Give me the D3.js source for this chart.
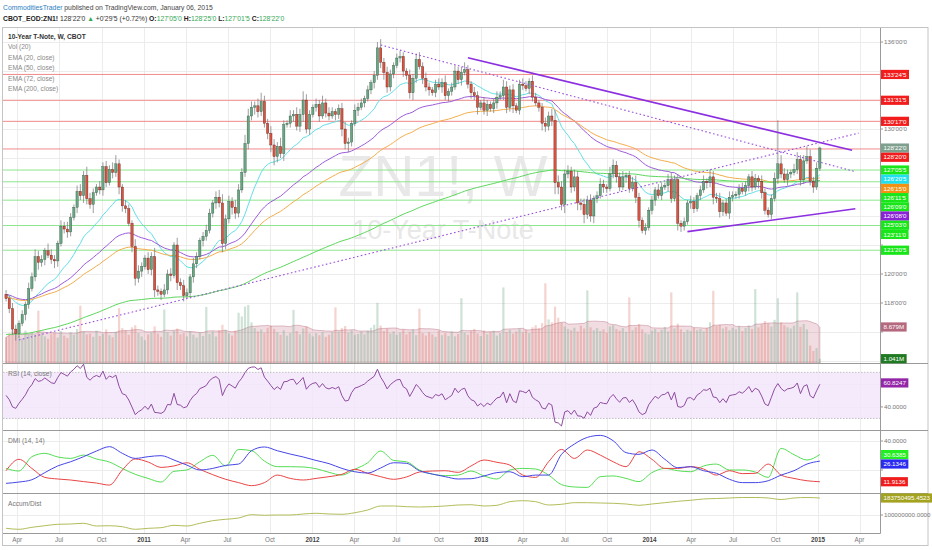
<!DOCTYPE html>
<html>
<head>
<meta charset="utf-8">
<script src="https://d3js.org/d3.v7.min.js"></script>
<style>
  body { margin: 0; background: #fff; }
  svg text { font-family: "Liberation Sans", Arial, sans-serif; }
</style>
</head>
<body>
<script>
// ZN1! weekly, first bar week of 2010-03-08, last bar week of 2015-01-05
const firstOpen = 118.6
const closes = [
  118.3, 117.6, 116.2, 115.9, 116.6, 117.2, 117.9, 119.0, 119.8, 121.2,
  120.8, 121.0, 121.6, 121.3, 121.0, 120.9, 122.1, 123.3, 123.1, 122.9,
  123.9, 124.6, 125.7, 125.4, 126.8, 125.2, 124.8, 125.6, 126.0, 125.8,
  127.4, 126.3, 127.2, 127.0, 127.6, 126.0, 124.7, 124.5, 123.5, 121.9,
  119.7, 120.2, 120.5, 121.1, 120.3, 121.2, 118.9, 118.8, 118.6, 118.9,
  120.0, 119.9, 122.0, 119.4, 119.2, 118.5, 118.7, 119.8, 120.7, 121.2,
  122.3, 122.6, 123.0, 124.2, 124.9, 125.3, 124.9, 122.1, 123.8, 125.0,
  124.6, 124.2, 125.8, 127.0, 129.0, 130.9, 131.5, 131.6, 131.2, 131.9,
  130.4, 129.7, 128.9, 128.1, 128.8, 128.3, 130.3, 130.4, 130.9, 131.0,
  130.2, 131.0, 132.0, 130.0, 131.0, 131.5, 131.7, 130.9, 131.8, 131.1,
  130.9, 131.2, 131.0, 131.4, 130.0, 129.0, 129.1, 130.4, 131.3, 131.5,
  131.8, 132.1, 132.7, 133.2, 133.7, 135.6, 134.6, 133.9, 132.9, 133.8,
  134.4, 134.9, 135.0, 134.0, 133.7, 132.5, 133.5, 134.8, 134.3, 133.5,
  132.9, 132.7, 132.5, 133.1, 132.9, 133.2, 132.3, 132.6, 132.9, 134.0,
  133.4, 133.9, 134.1, 133.1, 132.5, 132.3, 131.5, 131.8, 131.3, 131.7,
  131.4, 131.8, 132.2, 132.3, 132.9, 131.5, 132.7, 131.6, 131.3, 133.1,
  133.0, 132.8, 133.3, 132.2, 131.8, 131.5, 130.4, 130.2, 130.9, 130.6,
  126.3, 126.0, 124.8, 126.9, 127.1, 126.0, 126.7, 124.9, 124.8, 124.1,
  125.1, 124.0, 125.2, 125.4, 126.2, 126.0, 125.9, 126.9, 127.5, 126.7,
  126.0, 126.7, 126.8, 125.9, 126.3, 125.3, 123.7, 123.0, 123.2, 124.4,
  125.1, 125.8, 125.4, 126.0, 126.1, 126.5, 125.2, 126.5, 123.5, 123.3,
  123.6, 124.9, 125.0, 124.5, 125.4, 125.8, 126.4, 126.3, 126.7, 125.3,
  125.2, 124.3, 124.9, 124.2, 125.3, 125.4, 125.5, 125.9, 125.7, 126.1,
  126.7, 126.0, 126.6, 126.4, 125.6, 124.4, 124.1, 125.2, 126.6, 127.6,
  126.9, 126.5, 126.9, 127.0, 127.2, 127.9, 126.5, 127.8, 128.1, 126.4,
  126.0, 127.3, 128.69
]
// wick length above / below the body, tenths of a point
const upWick = [
  3,2,4,3,2,3,2,4,3,5, 4,3,2,5,4,3,2,4,3,5, 3,2,4,5,3,6,4,3,2,4, 3,4,3,5,6,3,2,4,3,2,
  5,4,3,2,4,3,6,3,2,4, 3,4,2,5,3,4,3,2,4,3, 2,3,4,3,2,4,5,6,3,4, 3,5,4,3,6,5,4,3,5,6,
  4,3,5,4,3,6,3,2,4,3, 5,4,6,4,3,2,4,3,5,3, 4,3,2,3,4,5,3,2,4,3, 3,2,3,2,3,4,6,3,4,3,
  2,3,4,3,2,4,3,4,5,3, 4,3,2,3,4,3,5,2,3,4, 3,4,5,3,2,4,3,2,4,3, 2,3,4,3,5,4,3,4,2,3,
  4,3,2,4,3,2,3,4,3,5, 7,5,4,3,4,3,5,4,3,4, 3,4,2,3,4,3,2,5,4,3, 3,4,2,3,4,5,3,2,3,2,
  3,2,4,3,2,4,5,3,4,2, 3,2,4,3,2,3,4,2,5,4, 3,4,2,3,4,3,2,3,4,3, 2,4,3,2,4,3,2,3,4,30,
  6,4,3,2,4,5,3,4,7,5, 3,4,1
]
const loWick = [
  2,3,4,5,3,2,4,3,2,3, 5,3,4,2,3,5,4,2,3,4, 3,2,4,3,5,4,3,6,2,3, 4,3,2,4,3,5,4,3,2,4,
  5,3,4,2,3,4,5,3,4,2, 3,4,2,5,3,4,2,3,4,3, 2,4,3,2,3,4,3,6,4,3, 5,4,3,2,3,4,3,5,4,3,
  3,4,5,6,4,3,5,2,3,4, 3,4,5,3,4,2,3,4,2,3, 3,2,4,3,5,4,6,3,2,4, 2,3,2,3,4,3,4,5,4,3,
  3,2,3,4,3,4,5,3,2,4, 3,4,2,3,2,4,3,4,3,2, 3,4,2,3,4,3,5,2,3,4, 2,3,4,2,3,4,3,5,2,3,
  3,2,4,3,2,3,5,4,3,4, 8,5,4,6,3,4,3,5,4,6, 3,4,5,3,2,4,3,2,3,4, 3,2,4,3,2,4,5,2,3,2,
  3,4,2,3,2,4,3,2,5,4, 3,2,4,3,2,3,2,4,3,5, 3,4,3,2,4,3,2,3,2,3, 4,3,2,5,4,3,2,3,2,4,
  3,2,4,3,2,3,4,3,2,3, 4,2,2
]
// weekly volume, millions
const volume = [
  6.2, 7.1, 8.0, 7.4, 6.5, 5.9, 7.8, 6.9, 7.5, 6.8,
  12.6, 7.2, 6.4, 5.8, 6.9, 7.3, 6.1, 7.7, 6.6, 6.0,
  7.4, 6.8, 8.2, 13.8, 7.6, 6.9, 7.1, 6.3, 7.8, 6.5,
  7.0, 8.1, 6.7, 6.2, 7.5, 13.2, 8.4, 7.9, 6.8, 8.6,
  9.1, 7.2, 6.4, 5.5, 6.9, 7.3, 8.8, 7.1, 6.3, 12.9,
  7.4, 6.6, 7.8, 8.3, 6.9, 7.2, 6.4, 7.7, 6.8, 6.1,
  7.3, 6.5, 13.5, 7.0, 7.6, 6.4, 7.9, 9.2, 8.0, 7.1,
  6.6, 7.8, 12.1, 11.2, 13.6, 14.0, 9.8, 8.4, 7.6, 8.1,
  7.3, 8.5, 9.0, 8.2, 7.4, 6.8, 7.9, 6.6, 7.2, 12.8,
  7.7, 6.9, 8.3, 8.8, 7.1, 6.4, 7.2, 6.7, 7.5, 6.3,
  6.8, 7.4, 13.4, 7.6, 8.4, 8.9, 7.3, 7.9, 6.8, 7.0,
  7.6, 6.9, 7.8, 8.5, 9.2, 14.5, 9.0, 7.7, 8.3, 7.1,
  7.6, 6.8, 7.3, 8.0, 6.9, 7.5, 8.1, 6.7, 13.1, 7.2,
  6.6, 7.4, 6.9, 6.3, 7.8, 6.7, 7.2, 6.5, 7.6, 6.4,
  7.0, 15.6, 7.3, 6.8, 7.7, 8.2, 7.1, 6.5, 7.9, 6.9,
  7.4, 7.8, 6.6, 7.2, 18.2, 7.5, 8.0, 7.1, 7.6, 8.3,
  7.4, 8.0, 7.2, 8.6, 9.1, 8.4, 9.6, 19.2, 10.5, 9.8,
  13.6, 10.9, 9.7, 8.8, 8.2, 7.9, 8.5, 7.6, 9.0, 8.3,
  17.5, 8.6, 7.9, 8.4, 7.7, 8.1, 7.3, 8.8, 9.1, 8.2,
  7.8, 8.4, 7.5, 15.8, 7.9, 8.6, 9.4, 8.1, 7.2, 6.9,
  7.8, 8.2, 7.4, 8.0, 8.7, 7.6, 17.0, 8.3, 9.5, 8.1,
  7.4, 8.0, 7.7, 8.5, 7.9, 8.2, 7.6, 8.4, 9.8, 17.4,
  8.9, 9.2, 8.3, 8.7, 7.9, 8.5, 8.1, 8.8, 7.7, 8.4,
  9.0, 8.2, 17.8, 8.6, 9.3, 10.1, 9.5, 8.8, 10.4, 15.6,
  9.8, 9.1, 8.6, 8.3, 9.0, 17.0, 8.7, 9.4, 8.1, 4.2,
  2.9, 3.6, 1.041
]
// indicator values read every 4th week (week 0, 4, 8 ... 252)
const accumDist = [
  34.4, 29.5, 39.4, 47.2, 54.2, 55.6, 59.1, 45.8, 47.2, 42.3,
  29.5, 34.4, 37.4, 49.2, 45.8, 59.1, 71.9, 78.8, 85.2, 101.5,
  98.5, 100, 100, 104.9, 108.4, 104.9, 103.5, 111.3, 124.7, 144.4,
  144.4, 140.9, 139.4, 140.9, 144.4, 149.3, 150.8, 144.4, 147.8, 165.6,
  170.5, 165.6, 149.3, 152.8, 160.6, 160.6, 159.2, 157.7, 154.2, 147.8,
  154.2, 160.6, 167.5, 172.5, 178.9, 181.3, 183.8, 186.3, 186.3, 183.8,
  176.4, 183.8, 186.3, 183.75
]
const diPlus = [
  21.1, 19.3, 29.2, 31.5, 29.0, 28.0, 30.3, 27.6, 25.5, 21.1, 17.0, 14.2, 11.7, 19.1, 20.0, 25.7,
  30.1, 22.8, 34.2, 33.3, 26.2, 22.3, 22.3, 22.1, 20.9, 18.4, 16.5, 20.5, 25.0, 33.1, 26.6, 25.7,
  20.0, 17.2, 16.1, 16.5, 19.3, 15.9, 13.8, 20.0, 21.1, 20.7, 16.5, 9.9, 8.3, 8.0, 15.4, 15.9,
  14.2, 12.0, 18.2, 21.1, 19.5, 18.8, 22.8, 24.1, 20.0, 20.0, 18.6, 14.9, 34.9, 30.6, 26.9, 30.64
]
const diMinus = [
  19.5, 27.4, 21.1, 14.9, 13.8, 13.1, 12.0, 11.0, 9.6, 20.0, 27.6, 25.5, 21.8, 22.8, 25.0, 20.5,
  16.8, 13.6, 11.3, 9.2, 11.3, 16.5, 14.2, 13.1, 14.2, 15.4, 17.0, 20.5, 17.7, 15.4, 13.6, 15.2,
  18.6, 19.3, 19.5, 18.4, 22.8, 26.9, 25.3, 23.4, 16.5, 14.9, 25.7, 34.2, 28.0, 33.8, 30.3, 25.7,
  22.3, 32.6, 27.4, 21.1, 21.1, 22.3, 20.7, 16.5, 19.5, 17.5, 17.7, 24.1, 16.5, 14.2, 12.6, 11.91
]
const adx = [
  10.8, 11.7, 13.3, 18.2, 22.8, 25.7, 29.2, 33.1, 36.1, 31.5, 28.0, 29.2, 29.9, 26.9, 23.4, 20.0,
  21.1, 23.2, 24.1, 33.3, 35.9, 33.3, 31.0, 29.0, 26.6, 24.4, 21.1, 18.8, 17.9, 21.4, 25.0, 24.6,
  19.5, 17.2, 15.4, 13.8, 14.0, 15.9, 18.2, 18.8, 15.4, 16.5, 16.5, 30.8, 37.9, 42.5, 43.9, 40.2,
  32.0, 30.8, 33.8, 27.4, 21.6, 22.3, 19.5, 17.7, 13.6, 11.3, 11.3, 12.6, 16.5, 19.5, 24.1, 26.13
]
const emaLengths = [20, 50, 72, 200]
const emaStart = [118.6, 118.6, 118.4, 115.8]
const emaColors = ['#62dfe6', '#9d5bd9', '#f3ad4c', '#5dd65d']
const emaLast = [126.640625, 126.25, 126.46875, 126.28125]
const emaTagColors = ['#1fe0ee', '#8a22d6', '#f39212', '#19e619']
// horizontal levels drawn on the chart (32nds)
const redLevels = [133.765625, 131.984375, 130.53125, 128.625]
const greenLevels = [127.171875, 126.359375, 125.09375, 123.34375, 121.640625]
const lastPrice = 128.6875
const rsiLast = 60.8247, dmiLast = ['30.6385', '26.1346', '11.9136']
const volMaLast = '8.679M', volLast = '1.041M', adLast = '183750495.4523'
const priceTicks = d3.range(114, 137, 2)
const legend = ['Vol (20)', 'EMA (20, close)', 'EMA (50, close)', 'EMA (72, close)', 'EMA (200, close)']
// drawn trend lines [date, price]
const trendLines = [
  {a: ['2010-04-05', 115.45], b: ['2015-03-30', 129.72], dash: true},
  {a: ['2012-05-28', 135.80], b: ['2015-03-23', 127.06], dash: true},
  {a: ['2012-12-03', 134.92], b: ['2015-03-16', 128.53], dash: false},
  {a: ['2014-03-24', 122.92], b: ['2015-03-23', 124.50], dash: false}
]

const W = 932, H = 550
const L = 3, R = 880.5, RR = 928
const svg = d3.select('body').append('svg').attr('width', W).attr('height', H)

const parse = d3.timeParse('%Y-%m-%d')
const first = new Date(2010, 2, 8)
const bars = closes.map((c, i) => {
  const o = i ? closes[i - 1] : firstOpen
  return {
    date: d3.timeWeek.offset(first, i), open: o, close: c,
    high: Math.max(o, c) + upWick[i] / 10, low: Math.min(o, c) - loWick[i] / 10,
    vol: volume[i]
  }
})

const x = d3.scaleTime().domain([new Date(2011, 0, 1), new Date(2015, 0, 1)]).range([144, 818])
const yMain = d3.scaleLinear().domain([113.86, 136.97]).range([363, 28])
const yVol = d3.scaleLinear().domain([0, 80.7]).range([363, 28])
const yRsi = d3.scaleLinear().domain([20, 78.1]).range([430, 363])
const yDmi = d3.scaleLinear().domain([4.14, 47.6]).range([493, 430])
const yAd = d3.scaleLinear().domain([11.3, 208.4]).range([533, 493])

const fmt32 = p => {
  const w = Math.floor(p + 1e-9), f = (p - w) * 32, a = Math.floor(f + 1e-9)
  return w + "'" + String(a).padStart(2, '0') + "'" + Math.round((f - a) * 10)
}

const defs = svg.append('defs')
const clip = (id, y0, y1) => defs.append('clipPath').attr('id', id)
  .append('rect').attr('x', L).attr('y', y0).attr('width', R - L).attr('height', y1 - y0)
clip('cMain', 28, 363); clip('cRsi', 363, 430); clip('cDmi', 430, 493); clip('cAd', 493, 533)

// header
const h1 = svg.append('text').attr('x', 3).attr('y', 10).attr('font-size', 6.8).attr('fill', '#444')
h1.append('tspan').attr('fill', '#2b7ec1').text('CommoditiesTrader')
h1.append('tspan').text(' published on TradingView.com, January 06, 2015')
const h2 = svg.append('text').attr('x', 3).attr('y', 21).attr('font-size', 6.8).attr('fill', '#333')
const quote = [['CBOT_EOD:ZN1!', '#222', 1], [" 128'22'0 ", '#333'], ['\u25B2', '#34a853'],
  [" +0'29'5 (+0.72%) ", '#333'], ['O:', '#222', 1], ["127'05'0", '#34a853'], [' H:', '#222', 1],
  ["128'25'0", '#34a853'], [' L:', '#222', 1], ["127'01'5", '#34a853'], [' C:', '#222', 1], ["128'22'0", '#34a853']]
quote.forEach(q => h2.append('tspan').attr('fill', q[1]).attr('font-weight', q[2] ? 'bold' : null).text(q[0]))

// grid
const ticks = d3.timeMonth.range(new Date(2010, 3, 1), new Date(2015, 4, 2), 3)
const grid = svg.append('g').attr('stroke', '#ececec').attr('stroke-width', 1)
grid.selectAll('line.v').data(ticks).join('line')
  .attr('x1', d => Math.round(x(d)) + 0.5).attr('x2', d => Math.round(x(d)) + 0.5).attr('y1', 28).attr('y2', 533)
const hGrid = [...priceTicks.map(v => yMain(v)), yRsi(40), yRsi(60), yDmi(40), yDmi(20), yAd(100)]
grid.selectAll('line.h').data(hGrid).join('line')
  .attr('x1', L).attr('x2', R).attr('y1', d => Math.round(d) + 0.5).attr('y2', d => Math.round(d) + 0.5)

// main pane
const main = svg.append('g').attr('clip-path', 'url(#cMain)')
main.append('text').attr('x', 443).attr('y', 196).attr('text-anchor', 'middle')
  .attr('font-size', 57).attr('fill', '#e8e8e8').text('ZN1!, W')
main.append('text').attr('x', 443).attr('y', 239).attr('text-anchor', 'middle')
  .attr('font-size', 27).attr('fill', '#e8e8e8').text('10-Year T-Note')

// volume + MA(20)
const volMa = volume.map((v, i) => d3.mean(volume.slice(Math.max(0, i - 19), i + 1)))
main.append('path').datum(bars)
  .attr('fill', 'rgba(185,95,120,0.22)').attr('stroke', 'rgba(175,85,110,0.45)').attr('stroke-width', 0.8)
  .attr('d', d3.area().x(d => x(d.date)).y0(363).y1((d, i) => yVol(volMa[i])))
main.selectAll('rect.vol').data(bars).join('rect')
  .attr('x', d => x(d.date) - 1.1).attr('width', 2.2)
  .attr('y', d => yVol(d.vol)).attr('height', d => 363 - yVol(d.vol))
  .attr('fill', d => d.close >= d.open ? 'rgba(107,165,131,0.32)' : 'rgba(215,84,66,0.26)')

// horizontal levels
main.selectAll('line.red').data(redLevels).join('line')
  .attr('x1', L).attr('x2', R).attr('y1', d => yMain(d)).attr('y2', d => yMain(d))
  .attr('stroke', '#f08a8a').attr('stroke-width', 1)
main.selectAll('line.green').data(greenLevels).join('line')
  .attr('x1', L).attr('x2', R).attr('y1', d => yMain(d)).attr('y2', d => yMain(d))
  .attr('stroke', '#8ee68e').attr('stroke-width', 1)

// EMAs
emaLengths.forEach((n, k) => {
  const a = 2 / (n + 1)
  let e = emaStart[k]
  const vals = closes.map(c => (e = e + a * (c - e)))
  main.append('path').datum(bars).attr('fill', 'none').attr('stroke', emaColors[k]).attr('stroke-width', 1)
    .attr('d', d3.line().x(d => x(d.date)).y((d, i) => yMain(vals[i])))
})

// candles
main.selectAll('line.wick').data(bars).join('line')
  .attr('x1', d => x(d.date)).attr('x2', d => x(d.date))
  .attr('y1', d => yMain(d.high)).attr('y2', d => yMain(d.low))
  .attr('stroke', '#737375').attr('stroke-width', 0.7)
main.selectAll('rect.body').data(bars).join('rect')
  .attr('x', d => x(d.date) - 1.15).attr('width', 2.3)
  .attr('y', d => yMain(Math.max(d.open, d.close)))
  .attr('height', d => Math.max(0.8, Math.abs(yMain(d.open) - yMain(d.close))))
  .attr('fill', d => d.close >= d.open ? '#6ba583' : '#d75442')
  .attr('stroke', d => d.close >= d.open ? '#225437' : '#5b1a13').attr('stroke-width', 0.35)

// trend lines
main.selectAll('line.trend').data(trendLines).join('line')
  .attr('x1', d => x(parse(d.a[0]))).attr('y1', d => yMain(d.a[1]))
  .attr('x2', d => x(parse(d.b[0]))).attr('y2', d => yMain(d.b[1]))
  .attr('stroke', d => d.dash ? '#9b4fdc' : '#8c2fe0')
  .attr('stroke-width', d => d.dash ? 1.1 : 1.6)
  .attr('stroke-dasharray', d => d.dash ? '1.6,2.4' : null)

// legend
svg.append('text').attr('x', 8).attr('y', 38.5).attr('font-size', 6.6).attr('font-weight', 'bold')
  .attr('fill', '#333').text('10-Year T-Note, W, CBOT')
svg.selectAll('text.leg').data(legend).join('text')
  .attr('x', 8).attr('y', (d, i) => 49 + i * 10.5).attr('font-size', 6.6).attr('fill', '#888').text(d => d)

// RSI pane (computed from closes)
const rsi = [50]
let s = 0
for (let i = 1; i <= 14; i++) s += Math.abs(closes[i] - closes[i - 1])
let ag = s / 28, al = s / 28
for (let i = 1; i < closes.length; i++) {
  const ch = closes[i] - closes[i - 1]
  ag = (ag * 13 + Math.max(ch, 0)) / 14
  al = (al * 13 + Math.max(-ch, 0)) / 14
  rsi.push(100 - 100 / (1 + ag / al))
}
const rsiG = svg.append('g').attr('clip-path', 'url(#cRsi)')
rsiG.append('rect').attr('x', L).attr('width', R - L).attr('y', yRsi(70)).attr('height', yRsi(30) - yRsi(70))
  .attr('fill', '#f3e6fb').attr('fill-opacity', 0.85)
rsiG.selectAll('line.band').data([70, 30]).join('line')
  .attr('x1', L).attr('x2', R).attr('y1', d => yRsi(d)).attr('y2', d => yRsi(d))
  .attr('stroke', '#aaa').attr('stroke-width', 0.7).attr('stroke-dasharray', '1.5,1.5')
rsiG.append('path').datum(bars).attr('fill', 'none').attr('stroke', '#8d4c9e').attr('stroke-width', 1)
  .attr('d', d3.line().x(d => x(d.date)).y((d, i) => yRsi(rsi[i])))
svg.append('text').attr('x', 8).attr('y', 376).attr('font-size', 6.6).attr('fill', '#777').text('RSI (14, close)')

// DMI pane
const dmiG = svg.append('g').attr('clip-path', 'url(#cDmi)')
const sampleX = (d, i) => x(bars[i * 4].date)
;[[diPlus, '#55dd55'], [diMinus, '#e84545'], [adx, '#4646e6']].forEach(([arr, col]) => {
  dmiG.append('path').datum(arr).attr('fill', 'none').attr('stroke', col).attr('stroke-width', 1)
    .attr('d', d3.line().curve(d3.curveMonotoneX).x(sampleX).y(d => yDmi(d)))
})
svg.append('text').attr('x', 8).attr('y', 443).attr('font-size', 6.6).attr('fill', '#777').text('DMI (14, 14)')

// Accum/Dist pane
const adG = svg.append('g').attr('clip-path', 'url(#cAd)')
adG.append('path').datum(accumDist).attr('fill', 'none').attr('stroke', '#b3bd5a').attr('stroke-width', 1)
  .attr('d', d3.line().curve(d3.curveMonotoneX).x(sampleX).y(d => yAd(d)))
svg.append('text').attr('x', 8).attr('y', 506).attr('font-size', 6.6).attr('fill', '#777').text('Accum/Dist')

// frames and separators
const frame = svg.append('g').attr('stroke', '#9a9a9a').attr('fill', 'none')
frame.append('rect').attr('x', 2.5).attr('y', 27.5).attr('width', RR - 2.5).attr('height', 545.5 - 27.5)
  .attr('stroke', '#c4c4c4')
;[363.5, 430.5, 493.5].forEach(y => frame.append('line').attr('x1', L).attr('x2', RR).attr('y1', y).attr('y2', y))
frame.append('line').attr('x1', L).attr('x2', R).attr('y1', 533.5).attr('y2', 533.5)
frame.append('line').attr('x1', R).attr('x2', R).attr('y1', 28).attr('y2', 533.5)

// x axis labels
svg.selectAll('text.xt').data(ticks).join('text')
  .attr('x', d => x(d)).attr('y', 541.5).attr('text-anchor', 'middle').attr('font-size', 6.3)
  .attr('font-weight', d => d.getMonth() === 0 ? 'bold' : null)
  .attr('fill', d => d.getMonth() === 0 ? '#444' : '#777')
  .text(d => d.getMonth() === 0 ? d.getFullYear() : d3.timeFormat('%b')(d))

// coloured value tags (positions first, so covered axis ticks can be left out)
const tags = []
const priceTags = [
  {v: lastPrice, bg: '#7fa08f'},
  ...redLevels.map(v => ({v, bg: '#f21c1c'})),
  ...greenLevels.map(v => ({v, bg: '#19e619'})),
  ...emaLast.map((v, k) => ({v, bg: emaTagColors[k]}))
].map(d => ({...d, y: yMain(d.v)})).sort((a, b) => a.y - b.y)
let prevY = -99
priceTags.forEach(d => { d.y = Math.max(d.y, prevY + 9.2); prevY = d.y; tags.push([d.y, fmt32(d.v), d.bg]) })
tags.push([yVol(+volMaLast.slice(0, -1)), volMaLast, '#b5697f'])
tags.push([yVol(+volLast.slice(0, -1)), volLast, '#1f7a22'])
tags.push([yRsi(rsiLast), rsiLast.toFixed(4), '#9327a8'])
const dmiCols = ['#22ee22', '#2a2af0', '#f01c1c']
let py = -99
dmiLast.forEach((v, k) => { const y = Math.max(yDmi(+v), py + 9.4); py = y; tags.push([y, v, dmiCols[k]]) })
tags.push([yAd(+adLast / 1e6), adLast, '#a3a31f'])

// right axis ticks
const axis = svg.append('g')
const axisTicks = [
  ...priceTicks.map(v => [yMain(v), fmt32(v)]),
  [yRsi(60), '60.0000'], [yRsi(40), '40.0000'],
  [yDmi(40), '40.0000'], [yDmi(20), '20.0000'],
  [yAd(200), '200000000.0000'], [yAd(100), '100000000.0000']
]
axisTicks.forEach(([y, t]) => {
  axis.append('line').attr('x1', R).attr('x2', R + 2.5).attr('y1', y).attr('y2', y).attr('stroke', '#999')
  if (tags.some(g => Math.abs(g[0] - y) < 7.2)) return
  axis.append('text').attr('x', R + 3.5).attr('y', y + 2.2).attr('font-size', 6.2).attr('fill', '#777').text(t)
})

tags.forEach(([y, text, bg]) => {
  const g = svg.append('g')
  const t = g.append('text').attr('x', R + 3).attr('y', y + 2.2).attr('font-size', 6.2).attr('fill', '#fff').text(text)
  const w = t.node().getComputedTextLength()
  g.insert('rect', 'text').attr('x', R + 0.5).attr('y', y - 4.6).attr('width', w + 5).attr('height', 9.2).attr('fill', bg)
})
</script>
</body>
</html>
